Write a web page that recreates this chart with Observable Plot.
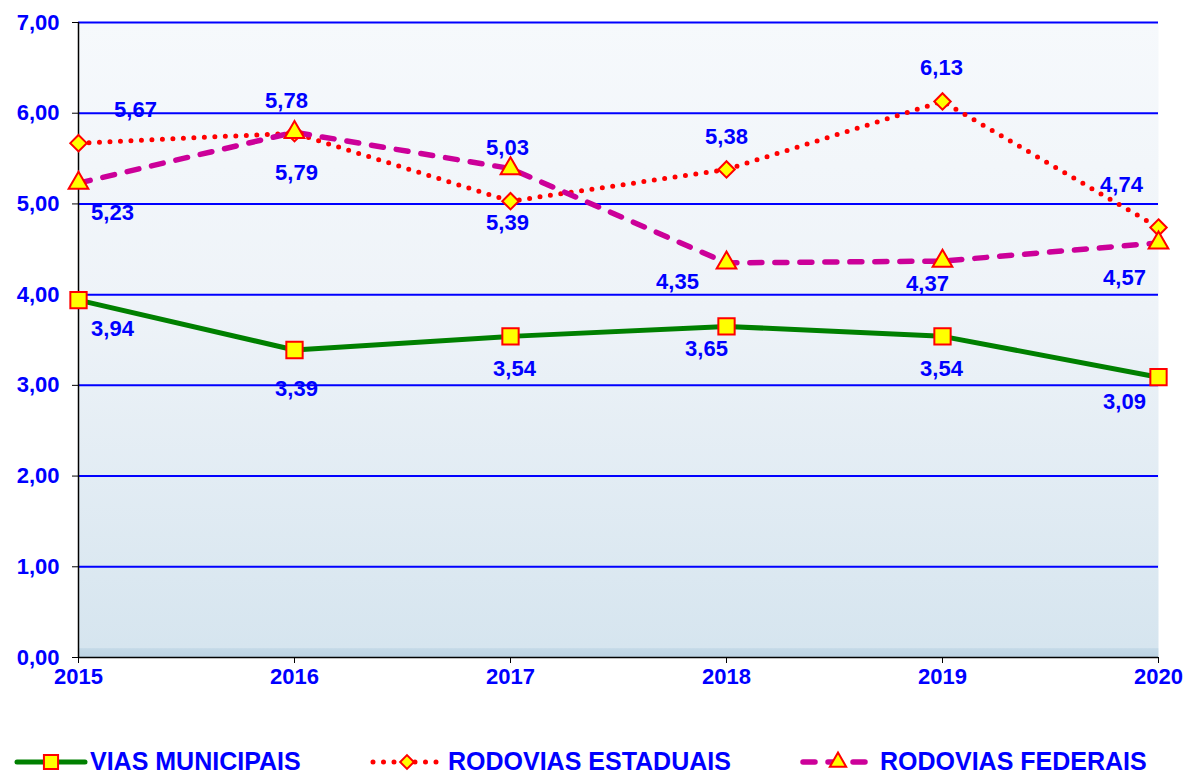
<!DOCTYPE html>
<html><head><meta charset="utf-8">
<script src="https://cdn.jsdelivr.net/npm/d3@7"></script>
<script src="https://cdn.jsdelivr.net/npm/@observablehq/plot@0.6"></script>
<style>
body{margin:0;background:#fff;font-family:"Liberation Sans",Arial,sans-serif;}
#chart{position:relative;width:1187px;height:774px;overflow:hidden;}
#legend{position:absolute;left:0;top:710px;width:1187px;height:64px;}
.sw{position:absolute;top:40px;}
.lt{position:absolute;top:36px;font-size:25px;font-weight:bold;color:#0000FF;line-height:30px;white-space:nowrap;}
</style></head><body><div id="chart"><div id="legend"></div></div>
<script>
// ---- data ----
const years = [2015, 2016, 2017, 2018, 2019, 2020];
const viasMunicipais    = [3.94, 3.39, 3.54, 3.65, 3.54, 3.09];
const rodoviasEstaduais = [5.67, 5.78, 5.03, 5.38, 6.13, 4.74];
const rodoviasFederais  = [5.23, 5.79, 5.39, 4.35, 4.37, 4.57];
const seriesNames = ["VIAS MUNICIPAIS", "RODOVIAS ESTADUAIS", "RODOVIAS FEDERAIS"];
const yTicks = [0, 1, 2, 3, 4, 5, 6, 7];

// ---- label placement (layout only) ----
const labelOffsets = {
  "VIAS MUNICIPAIS":    {dx: [34, 2, 4, -20, -1, -34],  dy: [29, 39, 33, 23, 33, 25]},
  "RODOVIAS ESTADUAIS": {dx: [57, -8, -3, 0, -1, -37],  dy: [-33, -32, -53, -33, -33, -43]},
  "RODOVIAS FEDERAIS":  {dx: [34, 2, -3, -49, -15, -34], dy: [30, 41, 54, 19, 23, 35]}
};

const styles = {
  "VIAS MUNICIPAIS":    {stroke: "#008000", strokeWidth: 5, dash: null, cap: "butt", symbol: "square", r: 9.2},
  "RODOVIAS ESTADUAIS": {stroke: "#FF0000", strokeWidth: 5, dash: "0 10.5", cap: "round", symbol: "diamond2", r: 7.4},
  "RODOVIAS FEDERAIS":  {stroke: "#CC0099", strokeWidth: 5.5, dash: "12 13", cap: "round", symbol: "triangle", r: 7.3}
};

const seriesValues = [viasMunicipais, rodoviasEstaduais, rodoviasFederais];
const rows = seriesValues.map((vals, s) => years.map((yr, i) => ({series: seriesNames[s], year: yr, value: vals[i], i})));

const fmt = d => d.toFixed(2).replace(".", ",");
const blue = "#0000FF";
const font = "Liberation Sans, Arial, sans-serif";

const marks = [
  Plot.frame({fill: "url(#bgGrad)", stroke: null}),
  Plot.ruleY(yTicks.filter(d => d > 0), {stroke: blue, strokeWidth: 2}),
  Plot.axisY({ticks: yTicks, tickSize: 6, tickPadding: 13, tickFormat: fmt, fontSize: 22, fontWeight: "bold", fill: blue, stroke: "#000", label: null}),
  Plot.axisX({ticks: years, tickSize: 6, tickPadding: 5, tickFormat: d => String(d), fontSize: 22, fontWeight: "bold", fill: blue, stroke: "#000", label: null}),
  Plot.ruleY([0], {stroke: "#000", strokeWidth: 1.5}),
  Plot.ruleX([2015], {stroke: "#000", strokeWidth: 1.5})
];
rows.forEach(data => {
  const st = styles[data[0].series];
  marks.push(Plot.line(data, {x: "year", y: "value", stroke: st.stroke, strokeWidth: st.strokeWidth,
    strokeDasharray: st.dash, strokeLinecap: st.cap, strokeLinejoin: "round"}));
});
rows.forEach(data => {
  const st = styles[data[0].series];
  marks.push(Plot.dot(data, {x: "year", y: "value", symbol: () => st.symbol, r: st.r, fill: "#FFFF00", stroke: "#FF0000", strokeWidth: 2}));
});
rows.forEach(data => {
  data.forEach(d => {
    const off = labelOffsets[d.series];
    marks.push(Plot.text([d], {x: "year", y: "value", text: e => fmt(e.value), dx: off.dx[d.i], dy: off.dy[d.i],
      fill: blue, fontSize: 22, fontWeight: "bold"}));
  });
});

const chart = Plot.plot({
  width: 1187, height: 710,
  marginTop: 22, marginBottom: 53, marginLeft: 78, marginRight: 29,
  x: {domain: [2015, 2020], axis: null},
  y: {domain: [0, 7], axis: null},
  symbol: {type: "identity"},
  style: {fontFamily: font, background: "transparent", overflow: "visible"},
  marks
});

const defs = d3.select(chart).insert("defs", ":first-child");
const g = defs.append("linearGradient").attr("id", "bgGrad").attr("x1", 0).attr("y1", 0).attr("x2", 0).attr("y2", 1);
[[0, "#F6F9FC"], [0.45, "#EEF3F8"], [0.985, "#D6E5EF"], [0.986, "#C4D9E7"], [1, "#BDD4E4"]].forEach(([o, c]) =>
  g.append("stop").attr("offset", o).attr("stop-color", c));

const root = document.getElementById("chart");
root.insertBefore(chart, root.firstChild);

// ---- legend ----
const legend = d3.select("#legend");
const legendItems = [
  {name: seriesNames[0], sw: 12, tx: 90},
  {name: seriesNames[1], sw: 368, tx: 448},
  {name: seriesNames[2], sw: 798, tx: 880}
];
legendItems.forEach(item => {
  const st = styles[item.name];
  const svg = legend.append("svg").attr("class", "sw").attr("width", 78).attr("height", 24)
    .style("left", item.sw + "px");
  svg.append("line").attr("x1", 5).attr("x2", 73).attr("y1", 12).attr("y2", 12)
    .attr("stroke", st.stroke).attr("stroke-width", st.strokeWidth)
    .attr("stroke-dasharray", st.dash).attr("stroke-linecap", st.cap === "butt" ? "round" : st.cap);
  const symMap = {square: d3.symbolSquare, diamond2: d3.symbolDiamond2, triangle: d3.symbolTriangle};
  const size = {square: 200, diamond2: 120, triangle: 115}[st.symbol];
  svg.append("path").attr("d", d3.symbol(symMap[st.symbol], size)())
    .attr("transform", `translate(${item.name === seriesNames[2] ? 40 : 39},12)`)
    .attr("fill", "#FFFF00").attr("stroke", "#FF0000").attr("stroke-width", 2);
  legend.append("div").attr("class", "lt").style("left", item.tx + "px").text(item.name);
});
</script></body></html>
